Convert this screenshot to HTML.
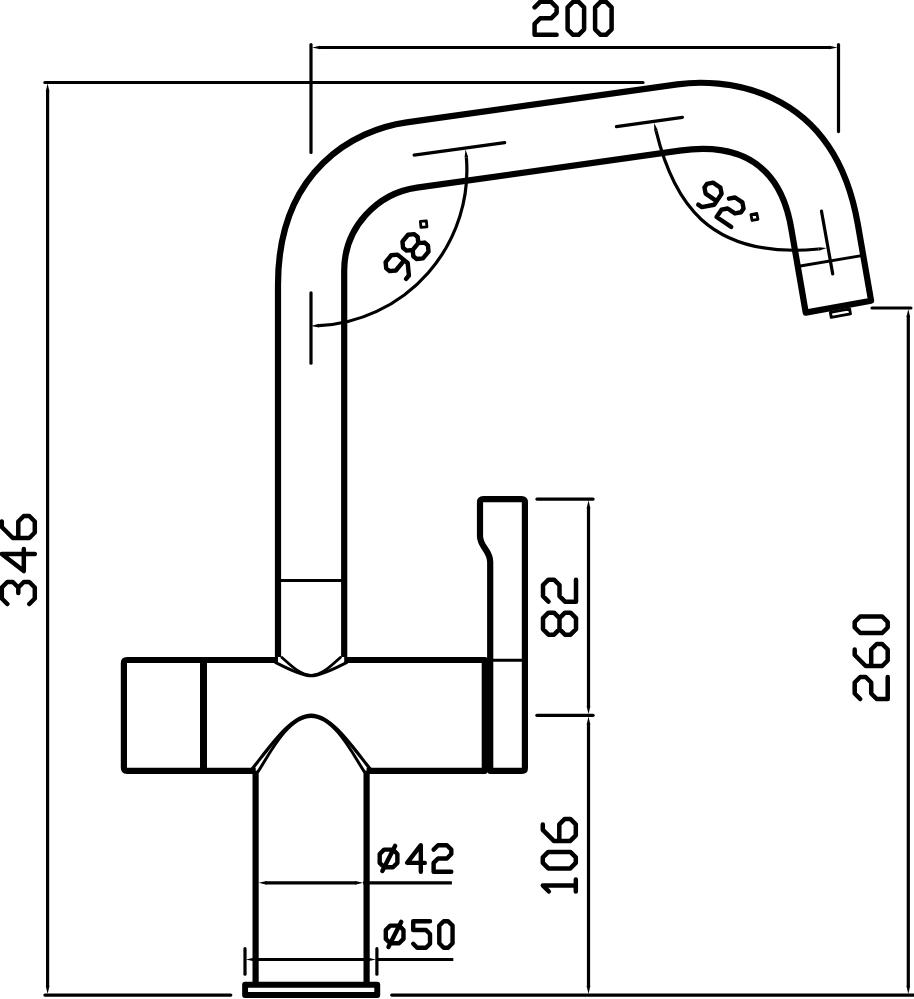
<!DOCTYPE html>
<html><head><meta charset="utf-8"><title>Faucet drawing</title>
<style>html,body{margin:0;padding:0;background:#fff;width:914px;height:999px;overflow:hidden}svg{display:block}</style>
</head><body>
<svg width="914" height="999" viewBox="0 0 914 999">
<rect width="914" height="999" fill="#fff"/>
<g fill="none" stroke="#000" stroke-linejoin="round">
<path d="M344.2,657L344.2,270.59C344.2,227.25 377.46,193.14 416.89,187.6L679.68,150.68C780.79,136.47 789.11,216.17 791.85,232.03L805.75,312.6L871.1,300.8L857.79,224.07C832.76,80.2 716.22,78.84 677.28,84.31L406.7,122.33C354.73,129.63 278,169.97 278,284.65L278,657" stroke-width="6.2" />
<line x1="798.8" y1="266.3" x2="863.2" y2="255.4" stroke-width="2.9" stroke-linecap="round"/>
<path d="M830.35,312.36L849.54,308.85L850.46,313.87L831.27,317.38Z" stroke-width="2.9" />
<line x1="278" y1="580.5" x2="344.2" y2="580.5" stroke-width="2.9" stroke-linecap="butt"/>
<path d="M278,660L127,660Q123.9,660 123.9,663L123.9,767.8Q123.9,770.8 127,770.8L255.7,770.8" stroke-width="6.2" />
<path d="M344.2,660L484.8,660L484.8,770.8L366.6,770.8" stroke-width="6.2" />
<line x1="203.5" y1="660" x2="203.5" y2="770.8" stroke-width="7" stroke-linecap="butt"/>
<path d="M281.1,656.7C290,664.5 300,675.3 311.15,675.3C322.3,675.3 332.3,664.5 341.2,656.7" stroke-width="2.8" />
<path d="M274.9,662.2C285,667 300,675.8 311.15,675.8C322.3,675.8 337.3,667 347.4,662.2" stroke-width="3.0" />
<path d="M251.7,769.5C270.7,745.8 291.2,715.1 311.15,715.1C331.1,715.1 351.6,745.8 370.6,769.5" stroke-width="3.2" />
<path d="M257.5,772.5C268,757 287,716.5 311.15,716.5C335.3,716.5 354.3,757 364.8,772.5" stroke-width="3.0" />
<line x1="255.6" y1="770.8" x2="255.6" y2="982.5" stroke-width="6.2" stroke-linecap="butt"/>
<line x1="366.6" y1="770.8" x2="366.6" y2="982.5" stroke-width="6.2" stroke-linecap="butt"/>
<rect x="245.1" y="984.75" width="132.15" height="10.25" stroke-width="5.9"/>
<path d="M490.2,770.8L490.2,562C490.2,550 480,547 480,536.3L480,502.5Q480,499.1 483.4,499.1L521.5,499.1Q524.9,499.1 524.9,502.5L524.9,768Q524.9,770.8 522,770.8Z" stroke-width="6.2" />
<line x1="490.2" y1="660.3" x2="524.9" y2="660.3" stroke-width="2.9" stroke-linecap="butt"/>
<line x1="311" y1="44.5" x2="311" y2="152.4" stroke-width="3.2" stroke-linecap="round"/>
<line x1="838.5" y1="44.5" x2="838.5" y2="131.6" stroke-width="3.2" stroke-linecap="round"/>
<line x1="319.1" y1="47.5" x2="830.4" y2="47.5" stroke-width="3.2" stroke-linecap="butt"/>
<path d="M312.1,47.5L320.1,45.65L320.1,49.35Z" fill="#000" stroke="none"/>
<path d="M837.4,47.5L829.4,49.35L829.4,45.65Z" fill="#000" stroke="none"/>
<path d="M534.6,7.3L540.1,1.8L551.1,1.8L556.6,7.3L556.6,12.8L551.1,18.3L540.1,18.3L534.6,23.8L534.6,34.8L556.6,34.8M573.1,1.8L578.6,1.8L584.1,7.3L584.1,29.3L578.6,34.8L573.1,34.8L567.6,29.3L567.6,7.3ZM600.6,1.8L606.1,1.8L611.6,7.3L611.6,29.3L606.1,34.8L600.6,34.8L595.1,29.3L595.1,7.3Z" stroke-width="4.5" stroke-linejoin="round" stroke-linecap="round"/>
<line x1="44.9" y1="82.5" x2="643" y2="82.5" stroke-width="3.2" stroke-linecap="round"/>
<line x1="44.9" y1="995.1" x2="230.8" y2="995.1" stroke-width="3.2" stroke-linecap="round"/>
<line x1="391.7" y1="995.1" x2="920" y2="995.1" stroke-width="3.2" stroke-linecap="round"/>
<line x1="47.6" y1="90.6" x2="47.6" y2="987" stroke-width="3.2" stroke-linecap="butt"/>
<path d="M47.6,83.6L49.45,91.6L45.75,91.6Z" fill="#000" stroke="none"/>
<path d="M47.6,994L45.75,986L49.45,986Z" fill="#000" stroke="none"/>
<path d="M7.3,604L1.8,598.5L1.8,587.5L7.3,582L12.8,582L18.3,587.5L23.8,582L29.3,582L34.8,587.5L34.8,598.5L29.3,604M18.3,593L18.3,587.5M34.8,553.95L1.8,553.95L23.8,571L23.8,549M1.8,521.5L1.8,527L12.8,538L29.3,538L34.8,532.5L34.8,521.5L29.3,516L23.8,516L18.3,521.5L18.3,538" stroke-width="4.5" stroke-linejoin="round" stroke-linecap="round"/>
<line x1="872" y1="308" x2="910.9" y2="308" stroke-width="3.2" stroke-linecap="round"/>
<line x1="908.3" y1="316.1" x2="908.3" y2="987" stroke-width="3.2" stroke-linecap="butt"/>
<path d="M908.3,309.1L910.15,317.1L906.45,317.1Z" fill="#000" stroke="none"/>
<path d="M908.3,994L906.45,986L910.15,986Z" fill="#000" stroke="none"/>
<path d="M860.2,699L854.7,693.5L854.7,682.5L860.2,677L865.7,677L871.2,682.5L871.2,693.5L876.7,699L887.7,699L887.7,677M854.7,649.5L854.7,655L865.7,666L882.2,666L887.7,660.5L887.7,649.5L882.2,644L876.7,644L871.2,649.5L871.2,666M854.7,627.5L854.7,622L860.2,616.5L882.2,616.5L887.7,622L887.7,627.5L882.2,633L860.2,633Z" stroke-width="4.5" stroke-linejoin="round" stroke-linecap="round"/>
<line x1="536.9" y1="499.1" x2="593.1" y2="499.1" stroke-width="3.2" stroke-linecap="round"/>
<line x1="536.9" y1="715.35" x2="593.1" y2="715.35" stroke-width="3.2" stroke-linecap="round"/>
<line x1="588.5" y1="507.2" x2="588.5" y2="707.25" stroke-width="3.2" stroke-linecap="butt"/>
<path d="M588.5,500.2L590.35,508.2L586.65,508.2Z" fill="#000" stroke="none"/>
<path d="M588.5,714.25L586.65,706.25L590.35,706.25Z" fill="#000" stroke="none"/>
<line x1="588.5" y1="723.45" x2="588.5" y2="987" stroke-width="3.2" stroke-linecap="butt"/>
<path d="M588.5,716.45L590.35,724.45L586.65,724.45Z" fill="#000" stroke="none"/>
<path d="M588.5,994L586.65,986L590.35,986Z" fill="#000" stroke="none"/>
<path d="M543,629.2L543,618.2L548.5,612.7L554,612.7L559.5,618.2L559.5,629.2L554,634.7L548.5,634.7ZM559.5,629.2L559.5,618.2L565,612.7L570.5,612.7L576,618.2L576,629.2L570.5,634.7L565,634.7ZM548.5,601.7L543,596.2L543,585.2L548.5,579.7L554,579.7L559.5,585.2L559.5,596.2L565,601.7L576,601.7L576,579.7" stroke-width="4.5" stroke-linejoin="round" stroke-linecap="round"/>
<path d="M548.85,891.5L542.8,885.45L575.8,885.45M575.8,891.5L575.8,879.4M542.8,862.9L542.8,857.4L548.3,851.9L570.3,851.9L575.8,857.4L575.8,862.9L570.3,868.4L548.3,868.4ZM542.8,824.4L542.8,829.9L553.8,840.9L570.3,840.9L575.8,835.4L575.8,824.4L570.3,818.9L564.8,818.9L559.3,824.4L559.3,840.9" stroke-width="4.5" stroke-linejoin="round" stroke-linecap="round"/>
<line x1="265.6" y1="882.8" x2="356.2" y2="882.8" stroke-width="3.2" stroke-linecap="butt"/>
<path d="M258.6,882.8L266.6,880.95L266.6,884.65Z" fill="#000" stroke="none"/>
<path d="M363.2,882.8L355.2,884.65L355.2,880.95Z" fill="#000" stroke="none"/>
<line x1="363.2" y1="882.8" x2="451.9" y2="882.8" stroke-width="3.2" stroke-linecap="butt"/>
<path d="M384.12,849.62L392.96,849.62L397.38,854.04L397.38,862.88L392.96,867.3L384.12,867.3L379.7,862.88L379.7,854.04ZM395.17,845.86L382.35,871.06M420.81,871.72L420.81,845.2L407.1,862.88L424.78,862.88M433.62,849.62L438.04,845.2L446.88,845.2L451.3,849.62L451.3,854.04L446.88,858.46L438.04,858.46L433.62,862.88L433.62,871.72L451.3,871.72" stroke-width="4.4" stroke-linejoin="round" stroke-linecap="round"/>
<line x1="245" y1="948.7" x2="245" y2="974.2" stroke-width="3.2" stroke-linecap="round"/>
<line x1="376.9" y1="948.7" x2="376.9" y2="974.2" stroke-width="3.2" stroke-linecap="round"/>
<line x1="252.9" y1="959.5" x2="368.9" y2="959.5" stroke-width="3.2" stroke-linecap="butt"/>
<path d="M245.9,959.5L253.9,957.65L253.9,961.35Z" fill="#000" stroke="none"/>
<path d="M375.9,959.5L367.9,961.35L367.9,957.65Z" fill="#000" stroke="none"/>
<line x1="375.9" y1="959.5" x2="453.3" y2="959.5" stroke-width="3.2" stroke-linecap="butt"/>
<path d="M390.22,925.62L399.06,925.62L403.48,930.04L403.48,938.88L399.06,943.3L390.22,943.3L385.8,938.88L385.8,930.04ZM401.27,921.86L388.45,947.06M430,921.2L413.2,921.2L413.2,930.04L426.02,930.04L430,934.02L430,943.74L426.02,947.72L417.18,947.72L413.2,943.74M443.7,921.2L448.12,921.2L452.54,925.62L452.54,943.3L448.12,947.72L443.7,947.72L439.28,943.3L439.28,925.62Z" stroke-width="4.4" stroke-linejoin="round" stroke-linecap="round"/>
<line x1="311" y1="292.8" x2="311" y2="363.2" stroke-width="3.2" stroke-linecap="round"/>
<line x1="414.1" y1="155.1" x2="504.7" y2="142.7" stroke-width="3.2" stroke-linecap="round"/>
<path d="M319,325.69A155.9 155.9 0 0 0 466.38,157.33" stroke-width="3.2" stroke-linecap="butt"/>
<path d="M311,325.9L318.95,323.85L319.04,327.54Z" fill="#000" stroke="none"/>
<path d="M465.53,149.38L468.22,157.14L464.55,157.53Z" fill="#000" stroke="none"/>
<path d="M420.37,221.43L426.34,220.84L426.93,226.82L420.96,227.4Z" stroke-width="2.8"/>
<path d="M406.1,278.92L408.9,275.5L407.68,263.06L397.44,254.64L391.22,255.25L385.61,262.08L386.22,268.31L389.63,271.11L395.85,270.5L404.27,260.25M402.44,241.59L408.05,234.76L414.27,234.15L417.69,236.96L418.3,243.18L412.69,250.01L406.46,250.62L403.05,247.81ZM412.69,250.01L418.3,243.18L424.52,242.57L427.93,245.37L428.54,251.59L422.93,258.42L416.71,259.03L413.29,256.23Z" stroke-width="4.4" stroke-linejoin="round" stroke-linecap="round"/>
<line x1="616.4" y1="126.7" x2="682.4" y2="117.3" stroke-width="3.2" stroke-linecap="round"/>
<line x1="821.5" y1="211.2" x2="832.7" y2="273.9" stroke-width="3.2" stroke-linecap="round"/>
<path d="M656.02,130.73C672.5,198.75 706.13,259.88 818.68,248.98" stroke-width="3.2" stroke-linecap="butt"/>
<path d="M654.2,122.9L657.81,130.27L654.21,131.11Z" fill="#000" stroke="none"/>
<path d="M826.7,248.1L818.95,250.81L818.55,247.14Z" fill="#000" stroke="none"/>
<path d="M756.81,213.46L757.95,219.35L752.06,220.49L750.92,214.6Z" stroke-width="2.8"/>
<path d="M698.23,204.66L701.9,207.13L714.17,204.74L721.59,193.75L720.39,187.61L713.06,182.67L706.93,183.86L704.46,187.53L705.65,193.66L716.64,201.08M728.91,198.69L735.05,197.5L742.38,202.44L743.57,208.58L741.1,212.25L734.96,213.44L727.64,208.49L721.5,209.69L716.56,217.02L731.21,226.9" stroke-width="4.4" stroke-linejoin="round" stroke-linecap="round"/>
</g>
</svg>
</body></html>
